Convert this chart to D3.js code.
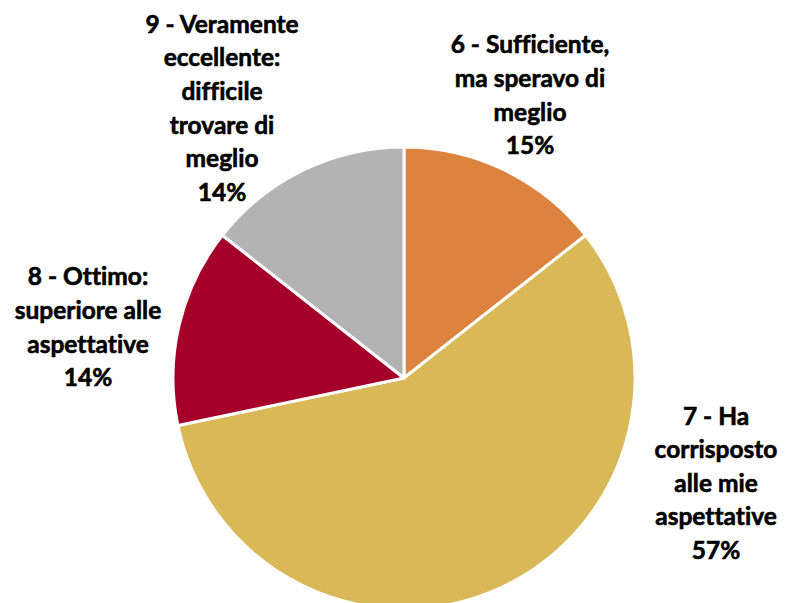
<!DOCTYPE html>
<html>
<head>
<meta charset="utf-8">
<script src="https://cdn.jsdelivr.net/npm/d3@7"></script>
<style>
  html, body { margin: 0; padding: 0; background: #fff; }
  svg { display: block; }
  text { font-family: Lato, "Open Sans", sans-serif; font-weight: 700; fill: #000; font-variant-ligatures: none; }
</style>
</head>
<body>
<svg id="chart" width="787" height="603"></svg>
<script>
// Data
const categories = [
  ["6 - Sufficiente,", "ma speravo di", "meglio"],
  ["7 - Ha", "corrisposto", "alle mie", "aspettative"],
  ["8 - Ottimo:", "superiore alle", "aspettative"],
  ["9 - Veramente", "eccellente:", "difficile", "trovare di", "meglio"]
];
const values = [14.4, 57.3, 13.9, 14.4];
const percentLabels = ["15%", "57%", "14%", "14%"];
const colors = ["#DC843F", "#D9B857", "#A50029", "#B3B3B3"];

// Layout
const W = 787, H = 603;
const cx = 404, cy = 378, R = 231;
const lineH = 33.6;
// label centres relative to pie centre (layout only)
const labelOffsets = [[126, -283], [312, 105], [-316, -51], [-182, -270]];

const svg = d3.select("#chart");
const g = svg.append("g").attr("transform", `translate(${cx},${cy})`);

const pie = d3.pie().sort(null).value(d => d);
const arc = d3.arc().innerRadius(0).outerRadius(R);
const arcs = pie(values);

g.selectAll("path.slice")
  .data(arcs)
  .enter().append("path")
  .attr("class", "slice")
  .attr("d", arc)
  .attr("fill", (d, i) => colors[i])
  .attr("stroke", "#fff")
  .attr("stroke-width", 3)
  .attr("stroke-linejoin", "round");

const labels = g.selectAll("g.label")
  .data(arcs)
  .enter().append("g")
  .attr("class", "label")
  .attr("transform", (d, i) => `translate(${labelOffsets[i][0]},${labelOffsets[i][1]})`);

labels.each(function(d, i) {
  const lines = categories[i].concat([percentLabels[i]]);
  const n = lines.length;
  const t = d3.select(this).append("text")
    .attr("text-anchor", "middle")
    .attr("font-size", 24.5)
    .attr("stroke", "#000")
    .attr("stroke-width", 0.6);
  lines.forEach((l, k) => {
    t.append("tspan")
      .attr("x", 0)
      .attr("y", (k - (n - 1) / 2) * lineH)
      .attr("dy", "0.36em")
      .text(l);
  });
});
</script>
</body>
</html>
